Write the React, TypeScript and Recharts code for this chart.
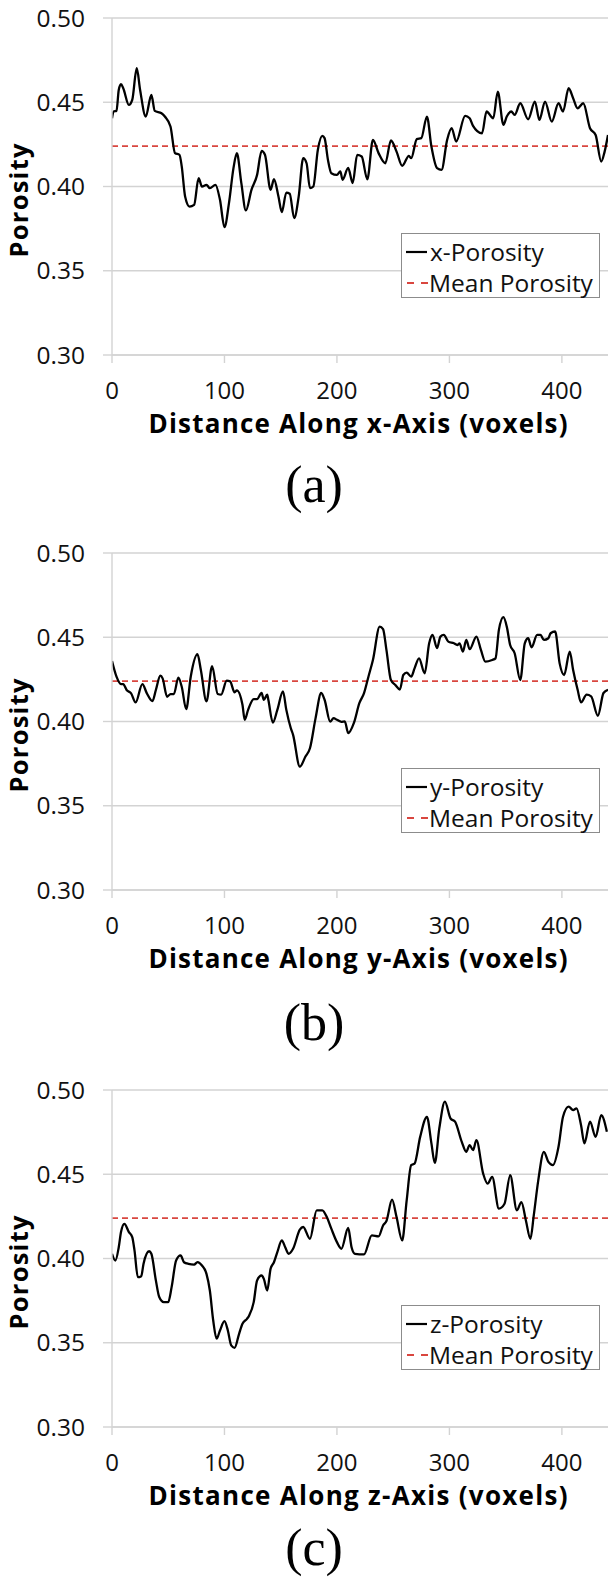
import React from 'react';
import {
  LineChart, Line, XAxis, YAxis, CartesianGrid, ReferenceLine, Legend, Label,
} from 'recharts';

// distance (voxels) and porosity
const xDist = [0, 1.5, 4, 6, 8, 10, 15, 18, 22, 25, 30, 35, 38, 44, 47, 52, 56, 60, 62, 65, 69, 73, 77, 80, 84, 87, 92, 96, 100, 104, 108, 111, 115, 119, 124, 129, 133, 136, 141, 144, 148, 151, 155, 158, 162, 166, 170, 173, 176, 179, 183, 187, 189, 192, 195, 200, 203, 205, 210, 214, 218, 222, 227, 232, 237, 243, 248, 253, 258, 264, 266, 271, 275, 280, 284, 289, 293, 298, 302, 306, 314, 318, 321, 329, 333, 339, 343, 348, 351, 355, 358, 363, 370, 376, 380, 385, 391, 397, 401, 406, 410, 414, 419, 425, 430, 435, 438, 441];
const xPorosity = [0.4405, 0.4445, 0.4449, 0.4573, 0.4607, 0.4583, 0.4484, 0.4514, 0.4702, 0.4573, 0.4415, 0.4543, 0.4449, 0.4435, 0.4415, 0.4356, 0.4198, 0.4188, 0.4119, 0.3941, 0.3881, 0.3891, 0.4049, 0.4, 0.401, 0.399, 0.401, 0.3921, 0.3759, 0.3901, 0.4109, 0.4198, 0.402, 0.3858, 0.398, 0.4069, 0.4211, 0.4188, 0.398, 0.4043, 0.3941, 0.3848, 0.3964, 0.3957, 0.3812, 0.3941, 0.4168, 0.4138, 0.399, 0.4, 0.4217, 0.43, 0.4287, 0.4158, 0.4079, 0.4069, 0.4089, 0.404, 0.411, 0.402, 0.4188, 0.4178, 0.4043, 0.4277, 0.4198, 0.4138, 0.4273, 0.4207, 0.4123, 0.4182, 0.4168, 0.4281, 0.4287, 0.4415, 0.4237, 0.4109, 0.4099, 0.4277, 0.4346, 0.4267, 0.4419, 0.4405, 0.436, 0.4316, 0.4445, 0.4405, 0.4563, 0.4366, 0.4415, 0.4445, 0.4425, 0.4494, 0.4399, 0.4504, 0.4395, 0.4504, 0.4385, 0.4494, 0.4445, 0.4583, 0.4524, 0.4464, 0.4494, 0.4346, 0.4306, 0.4148, 0.4207, 0.4306];

const yDist = [0, 4, 8, 10, 13, 17, 21, 27, 31, 36, 39, 43, 45, 49, 52, 55, 59, 62, 66, 70, 76, 79, 84, 89, 94, 97, 102, 105, 109, 111, 116, 118, 121, 126, 129, 133, 135, 138, 139, 143, 147, 152, 155, 159, 161, 167, 172, 176, 181, 186, 189, 194, 197, 200, 204, 207, 210, 215, 220, 224, 228, 232, 238, 241, 244, 248, 252, 256, 259, 262, 266, 269, 273, 278, 282, 285, 289, 292, 295, 299, 304, 307, 309, 312, 315, 318, 324, 328, 332, 338, 341, 344, 348, 351, 354, 358, 363, 367, 370, 373, 378, 381, 384, 388, 390, 394, 398, 402, 407, 410, 414, 417, 422, 426, 432, 437, 441];
const yPorosity = [0.4359, 0.4266, 0.4222, 0.4222, 0.4187, 0.4167, 0.4113, 0.4222, 0.4167, 0.4121, 0.4187, 0.4272, 0.4256, 0.4147, 0.4163, 0.4163, 0.426, 0.4206, 0.4073, 0.4266, 0.4399, 0.4306, 0.4119, 0.4329, 0.4163, 0.4159, 0.4242, 0.4238, 0.4173, 0.4185, 0.4099, 0.401, 0.4069, 0.4133, 0.4133, 0.4169, 0.4129, 0.4159, 0.4129, 0.3994, 0.4069, 0.4179, 0.4069, 0.396, 0.3921, 0.3732, 0.3792, 0.3841, 0.402, 0.4169, 0.4129, 0.4, 0.402, 0.401, 0.3998, 0.4, 0.3931, 0.399, 0.411, 0.4167, 0.4266, 0.4365, 0.4563, 0.4548, 0.4425, 0.4246, 0.4216, 0.419, 0.4276, 0.429, 0.4266, 0.4315, 0.4375, 0.4286, 0.4464, 0.4514, 0.4435, 0.4504, 0.4514, 0.4474, 0.4464, 0.4454, 0.4464, 0.4415, 0.4484, 0.4429, 0.4504, 0.4425, 0.4355, 0.4365, 0.4375, 0.4544, 0.4619, 0.4563, 0.4454, 0.4405, 0.4246, 0.4464, 0.4494, 0.444, 0.4514, 0.4514, 0.4484, 0.4494, 0.4524, 0.4534, 0.4345, 0.4276, 0.4415, 0.4306, 0.4188, 0.4113, 0.4159, 0.4149, 0.4034, 0.4169, 0.4188];

const zDist = [0, 3, 6, 8, 11, 15, 18, 20, 23, 26, 28, 33, 35, 39, 42, 46, 50, 53, 57, 61, 64, 68, 73, 76, 80, 84, 87, 90, 93, 96, 100, 103, 106, 109, 113, 116, 120, 122, 126, 129, 133, 135, 138, 141, 144, 147, 151, 154, 157, 161, 167, 170, 176, 182, 187, 191, 195, 200, 204, 210, 213, 216, 224, 231, 237, 241, 244, 249, 253, 258, 262, 266, 269, 274, 280, 284, 287, 291, 296, 301, 305, 311, 315, 318, 321, 324, 330, 334, 338, 344, 349, 354, 360, 364, 368, 372, 375, 379, 384, 388, 392, 397, 401, 406, 410, 413, 417, 420, 425, 430, 435, 440];
const zPorosity = [0.4028, 0.3988, 0.4067, 0.4157, 0.4206, 0.4157, 0.4127, 0.4048, 0.3889, 0.3895, 0.3968, 0.4043, 0.4028, 0.387, 0.3771, 0.3741, 0.3741, 0.383, 0.3988, 0.4018, 0.3978, 0.3968, 0.3964, 0.3978, 0.3958, 0.3909, 0.381, 0.3632, 0.3524, 0.3573, 0.3628, 0.3573, 0.3484, 0.347, 0.3553, 0.3613, 0.3642, 0.3662, 0.3741, 0.387, 0.3899, 0.3879, 0.381, 0.3939, 0.3978, 0.4038, 0.4107, 0.4067, 0.4028, 0.4058, 0.4171, 0.4187, 0.4117, 0.4286, 0.4286, 0.4246, 0.4177, 0.4097, 0.4058, 0.4181, 0.4067, 0.4028, 0.4024, 0.4137, 0.4131, 0.4196, 0.4222, 0.4349, 0.4246, 0.4107, 0.4345, 0.4554, 0.4563, 0.4722, 0.4841, 0.4683, 0.4567, 0.4772, 0.4931, 0.4831, 0.4812, 0.4692, 0.4633, 0.4673, 0.4643, 0.4702, 0.4504, 0.4444, 0.4484, 0.4296, 0.4325, 0.4494, 0.4286, 0.4335, 0.4226, 0.4117, 0.4256, 0.4464, 0.4633, 0.4573, 0.4554, 0.4663, 0.4841, 0.4901, 0.4881, 0.4891, 0.4792, 0.4683, 0.4812, 0.4722, 0.4851, 0.4752];

const MEAN_POROSITY = 0.424;
const yTicks = [0.3, 0.35, 0.4, 0.45, 0.5];
const xTicks = [0, 100, 200, 300, 400];

const GRAY = '#d3d3d3';
const RED = '#d9463f';
const FONT = '"Open Sans", sans-serif';

function PorosityLegend({ axis }: { axis: string }) {
  const row = { height: 31, lineHeight: '31px', display: 'flex', alignItems: 'center' } as const;
  return (
    <div style={{
      width: 199, height: 65, boxSizing: 'border-box', border: '1px solid #8c8c8c',
      background: '#fff', paddingLeft: 4, paddingTop: 2, fontFamily: FONT, fontSize: 24.5, color: '#111',
    }}>
      <div style={row}>
        <svg width={22} height={4}><line x1={0} x2={21} y1={2} y2={2} stroke="#000" strokeWidth={2.2} /></svg>
        <span style={{ marginLeft: 2 }}>{axis}-Porosity</span>
      </div>
      <div style={row}>
        <svg width={22} height={4}><line x1={1} x2={22} y1={2} y2={2} stroke={RED} strokeWidth={2} strokeDasharray="7 7" /></svg>
        <span style={{ marginLeft: 1 }}>Mean Porosity</span>
      </div>
    </div>
  );
}

function Panel({ dist, porosity, axis, top, caption, captionTop }: {
  dist: number[]; porosity: number[]; axis: string; top: number; caption: string; captionTop: number;
}) {
  const data = dist.map((x, i) => ({ x, p: porosity[i] }));
  return (
    <>
      <div style={{ position: 'absolute', left: 0, top }}>
        <LineChart width={608} height={455} data={data} margin={{ top: 18, right: 0, bottom: 0, left: 0 }}
          style={{ fontFamily: FONT }}>
          <CartesianGrid vertical={false} stroke={GRAY} strokeWidth={1.4} />
          <XAxis dataKey="x" type="number" domain={[0, 441]} ticks={xTicks} allowDataOverflow
            height={100} tickSize={8} tickMargin={19}
            axisLine={{ stroke: GRAY, strokeWidth: 1.4 }} tickLine={{ stroke: GRAY, strokeWidth: 1.4 }}
            tick={{ fontSize: 24, fill: '#111', fontFamily: FONT }}>
            <Label content={(props: any) => {
              const vb = props.viewBox;
              return (
                <text x={vb.x + vb.width / 2 - 2} y={vb.y + 78} textAnchor="middle" fontFamily={FONT}
                  fontWeight={700} fontSize={26} fill="#000" textLength={419} lengthAdjust="spacing">
                  {`Distance Along ${axis}-Axis (voxels)`}
                </text>
              );
            }} />
          </XAxis>
          <YAxis type="number" domain={[0.3, 0.5]} ticks={yTicks} width={112} tickSize={9} tickMargin={18}
            tickFormatter={(v: number) => v.toFixed(2)}
            axisLine={{ stroke: GRAY, strokeWidth: 1.4 }} tickLine={{ stroke: GRAY, strokeWidth: 1.4 }}
            tick={{ fontSize: 24.5, fill: '#111', fontFamily: FONT }}>
            <Label content={(props: any) => {
              const vb = props.viewBox;
              const cy = vb.y + vb.height / 2 + 14;
              return (
                <text x={28} y={cy} transform={`rotate(-90 28 ${cy})`} textAnchor="middle" fontFamily={FONT}
                  fontWeight={700} fontSize={25.5} fill="#000" textLength={114} lengthAdjust="spacing">
                  Porosity
                </text>
              );
            }} />
          </YAxis>
          <ReferenceLine y={MEAN_POROSITY} stroke={RED} strokeWidth={1.8} strokeDasharray="6 4" />
          <Line type="monotone" dataKey="p" name={`${axis}-Porosity`} stroke="#000" strokeWidth={2.3}
            dot={false} isAnimationActive={false} />
          <Legend layout="horizontal" verticalAlign="middle" align="center"
            wrapperStyle={{ left: 401, top: 233, width: 199, height: 65 }}
            content={() => <PorosityLegend axis={axis} />} />
        </LineChart>
      </div>
      <div style={{
        position: 'absolute', left: 0, width: 628, top: captionTop, textAlign: 'center',
        fontFamily: '"Liberation Serif", "Times New Roman", serif', fontSize: 52, lineHeight: '52px', color: '#000',
      }}>{caption}</div>
    </>
  );
}

export default function App() {
  return (
    <div style={{ position: 'absolute', left: 0, top: 0, width: 608, height: 1577, overflow: 'hidden', background: '#fff' }}>
      <Panel dist={xDist} porosity={xPorosity} axis="x" top={0} caption="(a)" captionTop={459} />
      <Panel dist={yDist} porosity={yPorosity} axis="y" top={535} caption="(b)" captionTop={997} />
      <Panel dist={zDist} porosity={zPorosity} axis="z" top={1072} caption="(c)" captionTop={1522} />
    </div>
  );
}
